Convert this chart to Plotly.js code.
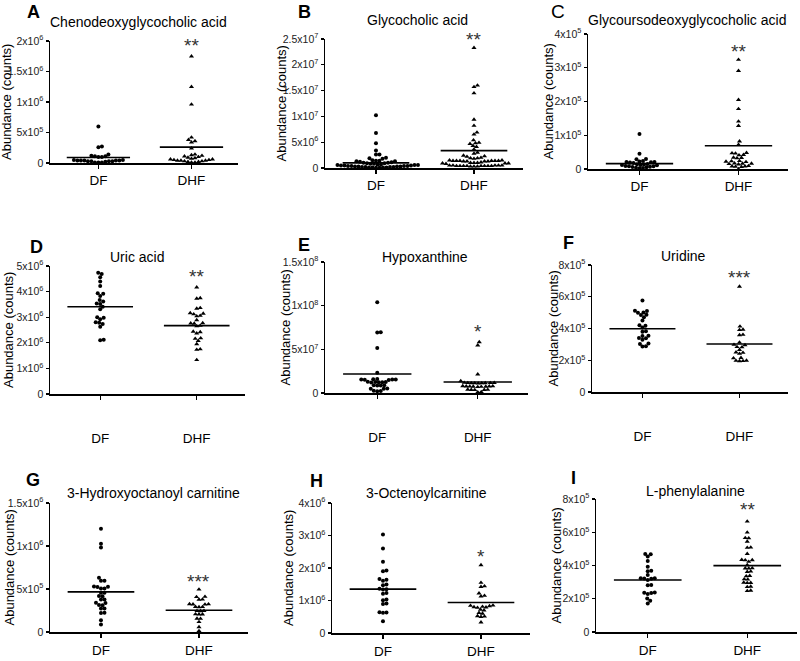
<!DOCTYPE html>
<html>
<head>
<meta charset="utf-8">
<script src="https://cdn.plot.ly/plotly-3.0.1.min.js"></script>
<style>html,body{margin:0;padding:0;background:#fff}#chart{width:800px;height:661px}</style>
</head>
<body>
<div id="chart"></div>
<script>
// ---------- data ----------
const categories = ['DF', 'DHF'];
const panelLetters = ['A', 'B', 'C', 'D', 'E', 'F', 'G', 'H', 'I'];
const panelTitles = ['Chenodeoxyglycocholic acid', 'Glycocholic acid', 'Glycoursodeoxyglycocholic acid',
  'Uric acid', 'Hypoxanthine', 'Uridine', '3-Hydroxyoctanoyl carnitine', '3-Octenoylcarnitine', 'L-phenylalanine'];
const units = [1e6, 1e7, 1e5, 1e6, 1e7, 1e5, 1e5, 1e6, 1e5];
const yMax = [2, 2.5, 4, 5, 15, 8, 15, 4, 8];
const sigLabels = ['**', '**', '**', '**', '*', '***', '***', '*', '**'];

// values in the panel's unit
const dfA = [0.60, 0.27, 0.26, 0.14, 0.12, 0.11, 0.11, 0.10, 0.10, 0.05, 0.05, 0.04, 0.04, 0.04, 0.04, 0.04, 0.03, 0.03, 0.03, 0.03, 0.02, 0.01, 0.01, 0.01];
const dhfA = [1.75, 1.25, 0.96, 0.42, 0.38, 0.36, 0.34, 0.24, 0.14, 0.13, 0.12, 0.11, 0.10, 0.09, 0.08, 0.07, 0.06, 0.06, 0.05, 0.05, 0.04, 0.04, 0.04, 0.03, 0.03, 0.02, 0.02, 0.01, 0.01];
const dfB = [1.02, 0.68, 0.48, 0.34, 0.26, 0.26, 0.20, 0.19, 0.18, 0.15, 0.14, 0.14, 0.13, 0.13, 0.12, 0.11, 0.10, 0.10, 0.09, 0.09, 0.08, 0.08, 0.07, 0.07, 0.06, 0.06, 0.06, 0.05, 0.05, 0.05, 0.04, 0.04, 0.04, 0.04, 0.03, 0.03, 0.03, 0.03, 0.02, 0.02, 0.02, 0.02, 0.01, 0.01, 0.01, 0.01, 0.005, 0.005];
const dhfB = [2.33, 1.60, 1.57, 1.45, 0.94, 0.82, 0.69, 0.65, 0.54, 0.49, 0.48, 0.47, 0.43, 0.41, 0.36, 0.30, 0.28, 0.24, 0.23, 0.22, 0.20, 0.19, 0.19, 0.18,
  0.15, 0.15, 0.14, 0.14, 0.14, 0.14, 0.14, 0.14, 0.13, 0.13, 0.13, 0.13, 0.11, 0.10, 0.10, 0.10, 0.09, 0.09, 0.09, 0.08,
  0.05, 0.05, 0.05, 0.05, 0.05, 0.04, 0.04, 0.04, 0.04, 0.04, 0.04, 0.04, 0.04, 0.03, 0.03, 0.03];
const dfC = [1.04, 0.45, 0.30, 0.29, 0.24, 0.22, 0.21, 0.21, 0.20, 0.19, 0.18, 0.15, 0.14, 0.13, 0.12, 0.12, 0.11, 0.09, 0.08, 0.08, 0.07, 0.06, 0.05, 0.04, 0.03, 0.02];
const dhfC = [3.24, 2.91, 2.05, 1.78, 1.41, 1.28, 0.82, 0.72, 0.48, 0.47, 0.46, 0.42, 0.41, 0.34, 0.33, 0.32, 0.24, 0.23, 0.22, 0.21, 0.17, 0.16, 0.16, 0.15, 0.14, 0.09, 0.08, 0.08, 0.07, 0.06, 0.0];
const dfD = [4.74, 4.69, 4.56, 4.39, 4.22, 3.94, 3.92, 3.83, 3.67, 3.61, 3.54, 3.52, 3.41, 3.31, 3.00, 2.98, 2.92, 2.80, 2.78, 2.73, 2.63, 2.12, 2.10];
const dhfD = [4.17, 3.75, 3.73, 3.36, 3.34, 3.16, 3.14, 3.12, 3.06, 3.04, 2.89, 2.77, 2.76, 2.75, 2.67, 2.65, 2.44, 2.42, 2.37, 2.18, 2.16, 2.08, 1.95, 1.75, 1.73, 1.33];
const dfE = [10.4, 6.95, 6.93, 5.15, 2.33, 1.60, 1.58, 1.56, 1.55, 1.54, 1.52, 1.50, 1.30, 1.27, 1.25, 1.24, 1.22, 1.20, 0.90, 0.88, 0.86, 0.85, 0.52, 0.50, 0.48, 0.25, 0.22, 0.20];
const dhfE = [5.84, 5.46, 2.14, 1.37, 1.18, 1.16, 1.15, 1.15, 1.14, 1.13, 1.12, 1.12, 1.10, 0.80, 0.78, 0.77, 0.76, 0.75, 0.74, 0.73, 0.72, 0.70, 0.40, 0.38, 0.37, 0.36, 0.35, 0.12, 0.10];
const dfF = [5.76, 5.12, 5.10, 5.01, 4.99, 4.87, 4.85, 4.71, 4.50, 4.20, 4.18, 4.06, 3.82, 3.80, 3.55, 3.53, 3.40, 3.38, 3.29, 3.05, 3.03, 2.88, 2.86];
const dhfF = [6.64, 4.13, 3.93, 3.91, 3.61, 3.59, 3.12, 2.98, 2.96, 2.84, 2.82, 2.66, 2.50, 2.48, 2.41, 2.15, 2.13, 1.98, 1.97, 1.96, 1.95];
const dfG = [12.0, 10.25, 9.82, 6.31, 5.97, 5.95, 5.28, 5.26, 5.24, 5.07, 5.05, 4.57, 4.55, 4.18, 4.16, 3.79, 3.77, 3.40, 3.38, 3.13, 3.11, 2.74, 2.72, 2.23, 2.21, 1.36, 0.86];
const dhfG = [4.95, 4.10, 4.08, 3.79, 3.77, 3.25, 3.24, 3.22, 3.21, 2.93, 2.92, 2.90, 2.46, 2.45, 2.44, 2.07, 2.06, 2.05, 1.57, 1.55, 1.17, 0.58, 0.12];
const dfH = [3.03, 2.60, 2.19, 1.92, 1.90, 1.66, 1.64, 1.61, 1.49, 1.47, 1.36, 1.35, 1.34, 1.23, 1.21, 1.03, 1.01, 0.91, 0.89, 0.64, 0.63, 0.62, 0.36];
const dhfH = [2.09, 1.55, 1.44, 1.42, 1.22, 1.15, 1.13, 0.85, 0.84, 0.83, 0.81, 0.80, 0.79, 0.78, 0.72, 0.70, 0.62, 0.60, 0.52, 0.51, 0.50, 0.33];
const dfI = [4.69, 4.67, 4.54, 4.27, 3.93, 3.68, 3.66, 3.43, 3.24, 3.23, 3.22, 3.21, 3.13, 2.83, 2.81, 2.37, 2.36, 2.35, 2.28, 2.02, 1.88, 1.71];
const dhfI = [6.65, 5.99, 5.66, 5.64, 5.44, 5.09, 5.07, 4.70, 4.34, 4.33, 4.32, 4.23, 4.03, 3.84, 3.83, 3.82, 3.64, 3.62, 3.38, 3.36, 3.18, 3.16, 2.97, 2.96, 2.95, 2.73, 2.71, 2.49, 2.47];

const meanDF = [0.09, 0.10, 0.16, 3.41, 2.18, 3.98, 4.67, 1.35, 3.13];
const meanDHF = [0.26, 0.336, 0.69, 2.67, 1.26, 3.02, 2.53, 0.94, 3.99];

const yTickVals = [[0, 0.5, 1, 1.5, 2], [0, 0.5, 1, 1.5, 2, 2.5], [0, 1, 2, 3, 4], [0, 1, 2, 3, 4, 5], [0, 5, 10, 15],
  [0, 2, 4, 6, 8], [0, 5, 10, 15], [0, 1, 2, 3, 4], [0, 2, 4, 6, 8]];
const yTickText = [
  ['0', '5x10<sup>5</sup>', '1x10<sup>6</sup>', '1.5x10<sup>6</sup>', '2x10<sup>6</sup>'],
  ['0', '5x10<sup>6</sup>', '1x10<sup>7</sup>', '1.5x10<sup>7</sup>', '2x10<sup>7</sup>', '2.5x10<sup>7</sup>'],
  ['0', '1x10<sup>5</sup>', '2x10<sup>5</sup>', '3x10<sup>5</sup>', '4x10<sup>5</sup>'],
  ['0', '1x10<sup>6</sup>', '2x10<sup>6</sup>', '3x10<sup>6</sup>', '4x10<sup>6</sup>', '5x10<sup>6</sup>'],
  ['0', '5x10<sup>7</sup>', '1x10<sup>8</sup>', '1.5x10<sup>8</sup>'],
  ['0', '2x10<sup>5</sup>', '4x10<sup>5</sup>', '6x10<sup>5</sup>', '8x10<sup>5</sup>'],
  ['0', '5x10<sup>5</sup>', '1x10<sup>6</sup>', '1.5x10<sup>6</sup>'],
  ['0', '1x10<sup>6</sup>', '2x10<sup>6</sup>', '3x10<sup>6</sup>', '4x10<sup>6</sup>'],
  ['0', '2x10<sup>5</sup>', '4x10<sup>5</sup>', '6x10<sup>5</sup>', '8x10<sup>5</sup>']
];
const groups = [[dfA, dhfA], [dfB, dhfB], [dfC, dhfC], [dfD, dhfD], [dfE, dhfE], [dfF, dhfF], [dfG, dhfG], [dfH, dhfH], [dfI, dhfI]];

// ---------- layout geometry (pixels) ----------
const W = 800, H = 661;
const geo = [[50, 238, 41, 163], [325, 523, 39, 168], [588, 788, 34, 169],
  [50, 245, 266, 394], [325, 528, 262, 393], [592, 788, 265, 392],
  [50, 248, 503, 632], [332, 530, 503, 633], [596, 797, 499, 632]];
const titlePos = [[138, 22], [417, 20], [687, 20], [137, 257], [425, 257], [683, 256], [153, 493], [427, 493], [695, 491]];
const letterPos = [[33, 12], [304, 12], [558, 12], [36, 247], [304, 245], [568, 243], [33, 480], [316, 481], [573, 478]];
const yTitleX = [7, 281, 548, 8, 285, 553, 9, 288, 556];
const sigY = [1.92, 2.50, 3.47, 4.58, 7.0, 7.20, 5.85, 2.34, 7.35];
const xTickStandoff = [0, 0, 0, 27, 27, 27, 1, 1, 1];
const xRange = [-0.52, 1.5];
const halfW = 0.34;
const FONT = 'Liberation Sans, Arial, sans-serif';

function swarm(vals, pxPerUnit, dmin) {
  const idx = vals.map((_, i) => i).sort((a, b) => vals[a] - vals[b]);
  const placed = [];
  const out = new Array(vals.length).fill(0);
  const step = 0.5;
  for (const i of idx) {
    const py = vals[i] * pxPerUnit;
    let chosen = 0;
    for (let k = 0; k < 800; k++) {
      const mag = Math.ceil(k / 2) * step;
      const off = (k % 2 === 1) ? mag : -mag;
      let ok = true;
      for (const p of placed) {
        const dx = p.x - off, dy = p.y - py;
        if (dx * dx + dy * dy < dmin * dmin) { ok = false; break; }
      }
      if (ok) { chosen = off; break; }
    }
    placed.push({ x: chosen, y: py });
    out[i] = chosen;
  }
  return out;
}

const traces = [];
const layout = {
  width: W, height: H, margin: { l: 0, r: 0, t: 0, b: 0 },
  paper_bgcolor: '#fff', plot_bgcolor: '#fff', showlegend: false,
  font: { family: FONT, color: '#000' }, annotations: []
};

for (let i = 0; i < 9; i++) {
  const n = i === 0 ? '' : String(i + 1);
  const [x0, x1, yt, yb] = geo[i];
  const pxPerX = (x1 - x0) / (xRange[1] - xRange[0]);
  const pxPerUnit = (yb - yt) / yMax[i];
  const u = units[i];
  for (let g = 0; g < 2; g++) {
    const vals = groups[i][g];
    const offs = swarm(vals, pxPerUnit, 3.5);
    traces.push({
      type: 'scatter', mode: 'markers', xaxis: 'x' + n, yaxis: 'y' + n,
      x: vals.map((v, k) => g + offs[k] / pxPerX),
      y: vals.map(v => v * u),
      marker: { symbol: g === 0 ? 'circle' : 'triangle-up', size: g === 0 ? 4 : 4.5, color: '#000', line: { width: 0 } },
      cliponaxis: false, hoverinfo: 'skip'
    });
    const m = (g === 0 ? meanDF : meanDHF)[i] * u;
    traces.push({
      type: 'scatter', mode: 'lines', xaxis: 'x' + n, yaxis: 'y' + n,
      x: [g - halfW, g + halfW], y: [m, m],
      line: { color: '#000', width: 1.6 }, cliponaxis: false, hoverinfo: 'skip'
    });
  }
  layout['xaxis' + n] = {
    domain: [x0 / W, x1 / W], anchor: 'y' + n, range: xRange,
    tickmode: 'array', tickvals: [0, 1], ticktext: categories,
    ticks: 'outside', ticklen: 4, tickwidth: 1.2, tickcolor: '#000',
    ticklabelstandoff: xTickStandoff[i],
    showline: true, linecolor: '#000', linewidth: 1.5, showgrid: false, zeroline: false,
    tickfont: { size: 13.5, family: FONT, color: '#000' }, fixedrange: true
  };
  layout['yaxis' + n] = {
    domain: [1 - yb / H, 1 - yt / H], anchor: 'x' + n, range: [0, yMax[i] * u],
    tickmode: 'array', tickvals: yTickVals[i].map(v => v * u), ticktext: yTickText[i],
    ticks: 'outside', ticklen: 3, tickwidth: 1.2, tickcolor: '#000',
    showline: true, linecolor: '#000', linewidth: 1.5, showgrid: false, zeroline: false,
    tickfont: { size: 10.5, family: FONT, color: '#222' }, fixedrange: true
  };
  layout.annotations.push({
    xref: 'paper', yref: 'paper', x: titlePos[i][0] / W, y: 1 - titlePos[i][1] / H,
    text: panelTitles[i], showarrow: false, xanchor: 'center', yanchor: 'middle',
    font: { size: 14, family: FONT, color: '#000' }
  });
  layout.annotations.push({
    xref: 'paper', yref: 'paper', x: letterPos[i][0] / W, y: 1 - letterPos[i][1] / H,
    text: i === 2 ? panelLetters[i] : '<b>' + panelLetters[i] + '</b>', showarrow: false,
    xanchor: 'center', yanchor: 'middle',
    font: { size: i === 2 ? 19 : 18, family: FONT, color: '#000' }
  });
  layout.annotations.push({
    xref: 'paper', yref: 'paper', x: yTitleX[i] / W, y: 1 - ((yt + yb) / 2) / H,
    text: 'Abundance (counts)', showarrow: false, textangle: -90,
    xanchor: 'center', yanchor: 'middle',
    font: { size: 13, family: FONT, color: '#000' }
  });
  layout.annotations.push({
    xref: 'x' + n, yref: 'y' + n, x: 1, y: sigY[i] * u,
    text: sigLabels[i], showarrow: false, xanchor: 'center', yanchor: 'middle',
    font: { size: 19, family: FONT, color: '#333' }
  });
}

Plotly.newPlot('chart', traces, layout, { staticPlot: true, displayModeBar: false });
</script>
</body>
</html>
